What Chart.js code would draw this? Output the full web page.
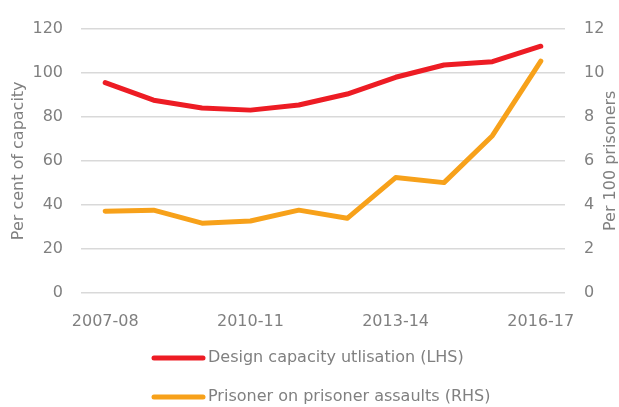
<!DOCTYPE html>
<html>
<head>
<meta charset="utf-8">
<script src="https://cdn.jsdelivr.net/npm/chart.js@4/dist/chart.umd.min.js"></script>
<style>
  html, body { margin: 0; padding: 0; background: #fff; }
  canvas { display: block; }
</style>
</head>
<body>
<canvas id="c" width="619" height="407"></canvas>
<script>
const categories = ["2007-08","2008-09","2009-10","2010-11","2011-12","2012-13","2013-14","2014-15","2015-16","2016-17"];
const capacityUtilisation = [95.5, 87.5, 84, 83, 85.3, 90.3, 97.9, 103.5, 105, 112];
const assaultsPer100 = [3.71, 3.76, 3.17, 3.27, 3.76, 3.39, 5.24, 5.01, 7.14, 10.52];
const shownTickLabels = ["2007-08","2010-11","2013-14","2016-17"];
const seriesNames = ["Design capacity utlisation (LHS)", "Prisoner on prisoner assaults (RHS)"];
const leftTitle = "Per cent of capacity";
const rightTitle = "Per 100 prisoners";

const FONT = "'DejaVu Sans', Verdana, sans-serif";
const GREY = "#808080";

const extrasPlugin = {
  id: 'extras',
  afterDraw(chart) {
    const ctx = chart.ctx;
    ctx.save();
    // right axis title, reading bottom-to-top like the left one
    const ca = chart.chartArea;
    ctx.translate(611, (ca.top + ca.bottom) / 2);
    ctx.rotate(-Math.PI / 2);
    ctx.fillStyle = GREY;
    ctx.font = "16px " + FONT;
    ctx.textAlign = 'center';
    ctx.textBaseline = 'middle';
    ctx.fillText(rightTitle, 0, 0);
    ctx.restore();

    ctx.save();
    const rows = [358, 397];
    chart.data.datasets.forEach((ds, i) => {
      const y = rows[i];
      ctx.strokeStyle = ds.borderColor;
      ctx.lineWidth = 5;
      ctx.lineCap = 'round';
      ctx.beginPath();
      ctx.moveTo(154, y);
      ctx.lineTo(203, y);
      ctx.stroke();
      ctx.fillStyle = GREY;
      ctx.font = "16px " + FONT;
      ctx.textAlign = 'left';
      ctx.textBaseline = 'middle';
      ctx.fillText(ds.label, 208, y);
    });
    ctx.restore();
  }
};

new Chart(document.getElementById('c'), {
  type: 'line',
  data: {
    labels: categories,
    datasets: [
      { label: seriesNames[0], data: capacityUtilisation, yAxisID: 'y',
        borderColor: '#ED1C24', backgroundColor: '#ED1C24', borderWidth: 5,
        pointRadius: 0, tension: 0, borderCapStyle: 'round', borderJoinStyle: 'round' },
      { label: seriesNames[1], data: assaultsPer100, yAxisID: 'y1',
        borderColor: '#F7A11A', backgroundColor: '#F7A11A', borderWidth: 5,
        pointRadius: 0, tension: 0, borderCapStyle: 'round', borderJoinStyle: 'round' }
    ]
  },
  options: {
    responsive: false,
    animation: false,
    layout: { padding: { top: 24, left: 0, right: 0, bottom: 0 } },
    plugins: { legend: { display: false }, tooltip: { enabled: false } },
    scales: {
      x: {
        offset: true,
        grid: { display: false, drawTicks: false },
        border: { display: false },
        ticks: {
          autoSkip: false, maxRotation: 0, padding: 19,
          color: GREY, font: { family: FONT, size: 16 },
          callback: function(v, i) { const l = categories[i]; return shownTickLabels.includes(l) ? l : ''; }
        },
        afterFit(s) { s.height = 114; }
      },
      y: {
        position: 'left', min: 0, max: 120,
        grid: { color: '#D9D9D9', lineWidth: 1.5, drawTicks: false },
        border: { display: false },
        ticks: { stepSize: 20, padding: 18, color: GREY, font: { family: FONT, size: 16 } },
        title: { display: true, text: leftTitle, color: GREY, font: { family: FONT, size: 16 }, padding: { top: 9, bottom: 0 } },
        afterFit(s) { s.width = 81; }
      },
      y1: {
        position: 'right', min: 0, max: 12,
        grid: { drawOnChartArea: false, drawTicks: false },
        border: { display: false },
        ticks: { stepSize: 2, padding: 19, color: GREY, font: { family: FONT, size: 16 } },
        afterFit(s) { s.width = 54; }
      }
    }
  },
  plugins: [extrasPlugin]
});
</script>
</body>
</html>
